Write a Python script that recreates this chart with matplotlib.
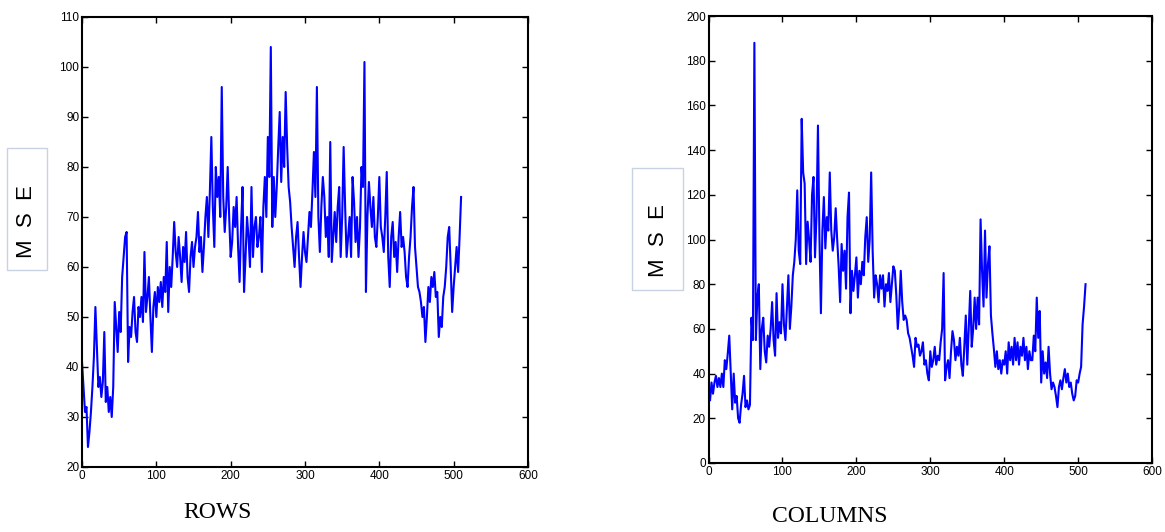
import numpy as np
import matplotlib.pyplot as plt
from matplotlib.patches import Rectangle

# MSE per row (every 2nd row)
mse_rows = [41, 36, 31, 32, 24, 27, 31, 36, 42, 52,
            44, 36, 38, 34, 37, 47, 33, 36, 31, 34,
            30, 36, 53, 48, 43, 51, 47, 58, 62, 66,
            67, 41, 48, 46, 51, 54, 47, 45, 52, 50,
            54, 49, 63, 51, 54, 58, 50, 43, 52, 55,
            50, 56, 53, 57, 52, 58, 55, 65, 51, 60,
            56, 62, 69, 63, 60, 66, 62, 57, 64, 61,
            67, 58, 55, 62, 65, 60, 64, 66, 71, 63,
            66, 59, 64, 70, 74, 66, 75, 86, 72, 64,
            80, 74, 78, 70, 96, 74, 67, 72, 80, 70,
            62, 65, 72, 68, 74, 64, 57, 68, 76, 55,
            62, 70, 66, 60, 76, 62, 68, 70, 64, 66,
            70, 59, 72, 78, 70, 86, 78, 104, 68, 78,
            70, 76, 84, 91, 77, 86, 80, 95, 84, 76,
            73, 68, 64, 60, 66, 69, 62, 56, 62, 67,
            63, 61, 66, 71, 68, 75, 83, 74, 96, 70,
            63, 72, 78, 74, 66, 70, 62, 85, 61, 66,
            71, 65, 72, 76, 62, 70, 84, 72, 62, 66,
            70, 62, 78, 73, 65, 70, 62, 68, 80, 76,
            101, 55, 70, 77, 72, 68, 74, 66, 64, 70,
            78, 68, 66, 63, 70, 79, 62, 56, 66, 69,
            62, 65, 59, 66, 71, 64, 66, 63, 58, 56,
            62, 66, 72, 76, 64, 60, 56, 55, 53, 50,
            52, 45, 50, 56, 53, 58, 56, 59, 54, 55,
            46, 50, 48, 54, 56, 60, 66, 68, 60, 51,
            56, 60, 64, 59, 66, 74]

# MSE per column (every 2nd column)
mse_cols = [35, 28, 36, 31, 36, 39, 34, 38, 34, 40,
            34, 46, 42, 49, 57, 40, 24, 40, 27, 30,
            20, 18, 26, 31, 39, 25, 28, 24, 26, 65,
            55, 188, 55, 74, 80, 42, 60, 65, 50, 45,
            57, 52, 60, 72, 55, 48, 76, 56, 63, 58,
            80, 62, 55, 70, 84, 60, 70, 84, 90, 100,
            122, 95, 89, 154, 130, 125, 89, 108, 100, 90,
            120, 128, 92, 110, 151, 101, 67, 104, 119, 96,
            110, 104, 130, 104, 95, 101, 114, 100, 88, 72,
            98, 86, 95, 78, 110, 121, 67, 86, 77, 84,
            92, 74, 86, 80, 90, 84, 101, 110, 90, 100,
            130, 95, 74, 84, 80, 72, 84, 78, 84, 70,
            80, 77, 85, 72, 80, 88, 86, 75, 60, 70,
            86, 72, 64, 66, 64, 58, 56, 52, 48, 43,
            56, 52, 53, 48, 50, 54, 44, 46, 40, 37,
            50, 43, 46, 52, 44, 48, 46, 54, 60, 85,
            37, 43, 46, 38, 50, 59, 55, 46, 52, 48,
            56, 44, 39, 52, 66, 44, 60, 77, 52, 60,
            74, 60, 74, 62, 109, 86, 70, 104, 74, 89,
            97, 66, 58, 51, 43, 50, 42, 46, 40, 46,
            44, 50, 40, 54, 46, 52, 44, 56, 46, 54,
            44, 52, 48, 56, 46, 52, 42, 50, 46, 46,
            57, 50, 74, 56, 68, 36, 50, 40, 45, 38,
            52, 40, 33, 36, 34, 30, 25, 34, 37, 33,
            38, 42, 36, 40, 34, 36, 31, 28, 30, 37,
            36, 40, 43, 62, 70, 80]

row_idx = np.arange(len(mse_rows)) * 2
col_idx = np.arange(len(mse_cols)) * 2

plt.rcParams['font.family'] = ['Liberation Sans', 'DejaVu Sans']

W, H = 1165, 532
fig = plt.figure(figsize=(W / 100, H / 100), dpi=100)
ax1 = fig.add_axes([0.0704, 0.1222, 0.3828, 0.8459])
ax2 = fig.add_axes([0.6082, 0.1297, 0.3807, 0.8402])

panels = [(ax1, row_idx, mse_rows, (20, 110), np.arange(20, 111, 10)),
          (ax2, col_idx, mse_cols, (0, 200), np.arange(0, 201, 20))]
for ax, x, y, ylim, yt in panels:
    ax.plot(x, y, color='#0000ff', lw=1.5)
    ax.set_xlim(0, 600)
    ax.set_ylim(*ylim)
    ax.set_xticks(np.arange(0, 601, 100))
    ax.set_yticks(yt)
    ax.tick_params(direction='in', top=True, right=True, length=4,
                   width=1, labelsize=8.5, pad=2)
    for s in ax.spines.values():
        s.set_linewidth(1.5)

# x labels sit left of the axes centre in the original
fig.text(218 / W, 1 - 513 / H, 'ROWS', family='Liberation Serif', fontsize=17,
         ha='center', va='center')
fig.text(830 / W, 1 - 517 / H, 'COLUMNS', family='Liberation Serif', fontsize=17,
         ha='center', va='center')

# "M S E" boxes
for (bx, by, bw, bh, tx, ty) in [(7, 148, 40, 122, 27, 222),
                                 (632, 168, 51, 122, 659, 241)]:
    fig.patches.append(Rectangle((bx / W, 1 - (by + bh) / H), bw / W, bh / H,
                                 transform=fig.transFigure, fill=False,
                                 ec='#c9d2e3', lw=1))
    fig.text(tx / W, 1 - ty / H, 'M  S  E', rotation=90, fontsize=16,
             ha='center', va='center')

fig.savefig('out.png', dpi=100)
